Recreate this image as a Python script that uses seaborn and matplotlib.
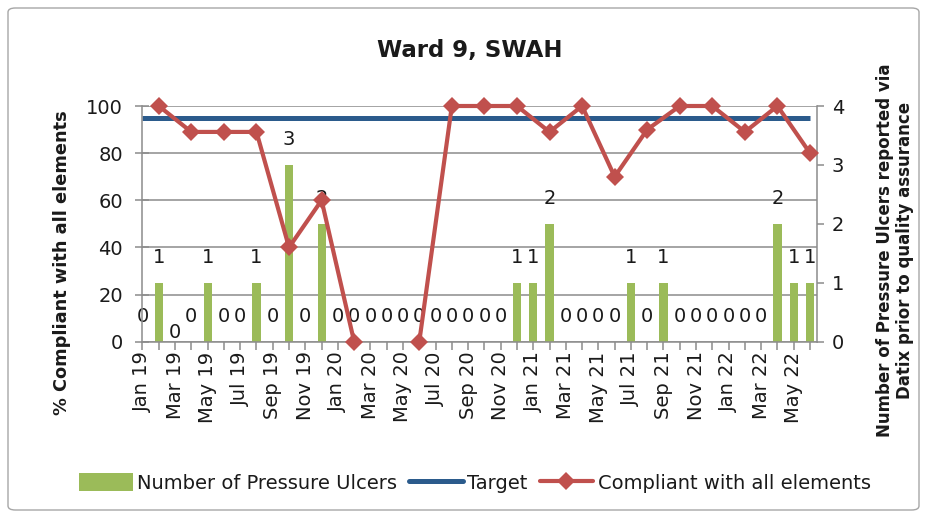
import numpy as np
import pandas as pd
import matplotlib
matplotlib.use("Agg")
import matplotlib.pyplot as plt
import seaborn as sns
from matplotlib.patches import Patch, FancyBboxPatch
from matplotlib.lines import Line2D

# ---------------- data ----------------
months = ['Jan 19', 'Feb 19', 'Mar 19', 'Apr 19', 'May 19', 'Jun 19', 'Jul 19', 'Aug 19',
          'Sep 19', 'Oct 19', 'Nov 19', 'Dec 19',
          'Jan 20', 'Feb 20', 'Mar 20', 'Apr 20', 'May 20', 'Jun 20', 'Jul 20', 'Aug 20',
          'Sep 20', 'Oct 20', 'Nov 20', 'Dec 20',
          'Jan 21', 'Feb 21', 'Mar 21', 'Apr 21', 'May 21', 'Jun 21', 'Jul 21', 'Aug 21',
          'Sep 21', 'Oct 21', 'Nov 21', 'Dec 21',
          'Jan 22', 'Feb 22', 'Mar 22', 'Apr 22', 'May 22', 'Jun 22']
ulcers = [0, 1, 0, 0, 1, 0, 0, 1, 0, 3, 0, 2,
          0, 0, 0, 0, 0, 0, 0, 0, 0, 0, 0, 1,
          1, 2, 0, 0, 0, 0, 1, 0, 1, 0, 0, 0,
          0, 0, 0, 2, 1, 1]
comp_months = ['Feb 19', 'Apr 19', 'Jun 19', 'Aug 19', 'Oct 19', 'Dec 19',
               'Feb 20', 'Apr 20', 'Jun 20', 'Aug 20', 'Oct 20', 'Dec 20',
               'Feb 21', 'Apr 21', 'Jun 21', 'Aug 21', 'Oct 21', 'Dec 21',
               'Feb 22', 'Apr 22', 'Jun 22']
compliance = [100, 89, 89, 89, 40, 60,
              0, None, 0, 100, 100, 100,
              89, 100, 70, 90, 100, 100,
              89, 100, 80]
target = 95
left_ticks = [0, 20, 40, 60, 80, 100]
right_ticks = [0, 1, 2, 3, 4]

title = "Ward 9, SWAH"
left_label = "% Compliant with all elements"
right_label = "Number of Pressure Ulcers reported via\nDatix prior to quality assurance"
legend_labels = ["Number of Pressure Ulcers", "Target", "Compliant with all elements"]

# ---------------- style ----------------
GREEN = "#9BBB59"
RED = "#C0504D"
BLUE = "#2B5B8C"
GRID = "#8C8C8C"
TXT = "#1A1A1A"

sns.set_theme(style="white")
plt.rcParams['font.family'] = ['DejaVu Sans']

W, H = 928, 518
fig = plt.figure(figsize=(W / 100, H / 100), dpi=100)
fig.patch.set_facecolor("white")

x0, x1, y0, y1 = 142.5, 816.7, 341.7, 106.0
ax = fig.add_axes([x0 / W, 1 - y0 / H, (x1 - x0) / W, (y0 - y1) / H])
ax2 = ax.twinx()

# bars on secondary axis
df = pd.DataFrame({"month": months, "ulcers": ulcers})
sns.barplot(data=df, x="month", y="ulcers", ax=ax2, color=GREEN, width=0.5,
            saturation=1, linewidth=0, zorder=2)

# gridlines (left-axis ticks) behind bars
lmax, rmax = left_ticks[-1], right_ticks[-1]
for t in left_ticks:
    ax2.axhline(t * rmax / lmax, color=GRID, lw=1.1, zorder=1)

# bar value labels
label_offsets = {2: 6.5}
for i, v in enumerate(ulcers):
    off = label_offsets.get(i, 18)
    ax2.annotate(str(v), (i, v), xytext=(0, off), textcoords="offset points",
                 ha="center", va="center", fontsize=14, color=TXT,
                 annotation_clip=False)

# line axis on top
ax.set_zorder(ax2.get_zorder() + 1)
ax.patch.set_visible(False)
ax2.patch.set_visible(False)

ax.hlines(target, 0, len(months) - 1, color=BLUE, lw=3.6, zorder=2)

dfc = pd.DataFrame({"month": comp_months, "comp": compliance})
dfc["comp"] = pd.to_numeric(dfc["comp"])
dfc["pos"] = [months.index(m) for m in dfc["month"]]
dfc["seg"] = dfc["comp"].isna().cumsum()
dfc = dfc.dropna()
sns.lineplot(data=dfc, x="pos", y="comp", units="seg", estimator=None, ax=ax,
             color=RED, lw=3, marker="D", markersize=9, markeredgecolor=RED,
             markeredgewidth=0, legend=False, zorder=3, clip_on=False)

# axes limits / ticks
ax.set_xlim(0, 41.41)
ax.set_ylim(0, lmax)
ax2.set_ylim(0, rmax)
ax.set_xticks(range(len(months)))
ax.set_xticklabels([m if i % 2 == 0 else "" for i, m in enumerate(months)],
                   rotation=90)
ax.set_yticks(left_ticks)
ax2.set_yticks(right_ticks)
ax.set_xlabel("")
ax.set_ylabel("")
ax2.set_xlabel("")
ax2.set_ylabel("")
ax.grid(False)
ax2.grid(False)

ax.tick_params(axis="x", direction="out", length=6, width=1.1, color=GRID,
               labelsize=14, labelcolor=TXT, pad=1, bottom=True)
ax.tick_params(axis="y", direction="inout", length=10, width=1.1, color=GRID,
               labelsize=14, labelcolor=TXT, pad=9, left=True)
ax2.tick_params(axis="y", direction="out", length=5, width=1.1, color=GRID,
                labelsize=14, labelcolor=TXT, pad=6, right=True)

for s in ["top", "right"]:
    ax.spines[s].set_visible(False)
for s in ["left", "bottom"]:
    ax.spines[s].set_color(GRID)
    ax.spines[s].set_linewidth(1.1)
for s in ["top", "left", "bottom"]:
    ax2.spines[s].set_visible(False)
ax2.spines["right"].set_color(GRID)
ax2.spines["right"].set_linewidth(1.1)

# texts
fig.text(470 / W, 1 - 50 / H, title, ha="center", va="center",
         fontsize=16.5, fontweight="bold", color=TXT)
fig.text(62 / W, 1 - 263 / H, left_label, rotation=90, ha="center", va="center",
         fontsize=12.8, fontweight="bold", color=TXT)
fig.text(895 / W, 1 - 250 / H, right_label, rotation=90, ha="center", va="center",
         fontsize=12, fontweight="bold", color=TXT, multialignment="center",
         linespacing=1.1)

# legend
handles = [Patch(facecolor=GREEN, edgecolor="none"),
           Line2D([], [], color=BLUE, lw=3.6),
           Line2D([], [], color=RED, lw=3, marker="D", markersize=9,
                  markeredgewidth=0)]
fig.legend(handles, legend_labels, loc="center", bbox_to_anchor=(475 / W, 1 - 483 / H),
           ncol=3, frameon=False, fontsize=14, handlelength=2.75, handleheight=1.0,
           handletextpad=0.25, columnspacing=0.6, labelcolor=TXT)

# chart border
fig.patches.append(FancyBboxPatch((8 / W, 8 / H), (W - 17) / W, (H - 16) / H,
                                  boxstyle="round,pad=0,rounding_size=0.008",
                                  transform=fig.transFigure, fill=False,
                                  edgecolor="#A6A6A6", lw=1.0))

fig.savefig("out.png", dpi=100)
